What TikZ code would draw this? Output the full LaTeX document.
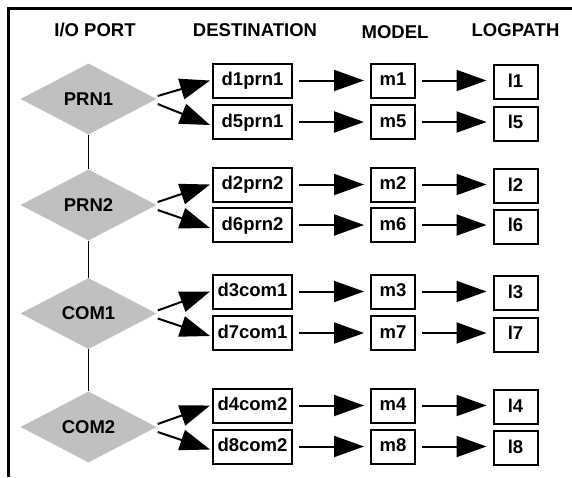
\documentclass[tikz,border=0pt]{standalone}
\usepackage{fontspec}
\setmainfont{Liberation Sans}
\usetikzlibrary{shapes.geometric,arrows.meta,calc}
\definecolor{portgray}{RGB}{192,192,192}

\begin{document}
\begin{tikzpicture}[x=1pt,y=-1pt,
  lbl/.style={font=\bfseries\fontsize{18.5}{21}\selectfont},
  header/.style={lbl, inner sep=0pt, text height=13pt, text depth=0pt},
  port/.style={lbl, diamond, fill=portgray, minimum width=136pt,
    minimum height=71pt, inner sep=0pt},
  box/.style={lbl, draw, line width=2pt, inner sep=0pt,
    minimum height=34pt, text height=13.5pt, text depth=3.5pt},
  destbox/.style={box, minimum width=79pt},
  smallbox/.style={box, minimum width=44pt},
  flow/.style={line width=2pt, -{Triangle[length=30pt,width=21pt]},
    shorten <=6pt, shorten >=6pt},
  fan/.style={line width=2pt, -{Triangle[length=30pt,width=21pt]}},
  link/.style={line width=1.8pt}]

\useasboundingbox (0,0) rectangle (572,477);

% frame: top and left edges only
\draw[line width=3pt] (8.7,477) -- (8.7,8.7) -- (572,8.7);

% column headings
\node[header] (hport)  at (95,30)    {I/O PORT};
\node[header] (hdest)  at (255,30)   {DESTINATION};
\node[header] (hmodel) at (395,31.5) {MODEL};
\node[header] (hlog)   at (515.5,30) {LOGPATH};

% I/O ports
\node[port] (prn1) at (88.5,99)    {PRN1};
\node[port] (prn2) at (88.5,205)   {PRN2};
\node[port] (com1) at (88.5,313.5) {COM1};
\node[port] (com2) at (88.5,427)   {COM2};

\draw[link] (prn1.south) -- (prn2.north);
\draw[link] (prn2.south) -- (com1.north);
\draw[link] (com1.south) -- (com2.north);

% destinations, models and log paths, one row each
\foreach \d/\m/\l/\y in {d1prn1/1/1/80.5, d5prn1/5/5/122,
                         d2prn2/2/2/184.5, d6prn2/6/6/225,
                         d3com1/3/3/291.5, d7com1/7/7/333,
                         d4com2/4/4/405.5, d8com2/8/8/446.5}{
  \node[destbox]  (\d)   at (252.5,\y)     {\d};
  \node[smallbox] (m\m)  at (393,\y)       {m\m};
  \node[smallbox] (l\l)  at (515.5,\y+1.5) {l\l};
  \draw[flow] (\d.east) -- (m\m.west);
  \draw[flow] (m\m.east) -- (m\m.east -| l\l.west);
}

% each port fans out to its two destinations
\foreach \p/\a/\b in {prn1/d1prn1/d5prn1, prn2/d2prn2/d6prn2,
                      com1/d3com1/d7com1, com2/d4com2/d8com2}{
  \draw[fan] ($(\p.east)+(1,-3)$) -- ($(\a.west)+(-2,0)$);
  \draw[fan] ($(\p.east)+(1,5)$)  -- ($(\b.west)+(-2,3)$);
}
\end{tikzpicture}
\end{document}
